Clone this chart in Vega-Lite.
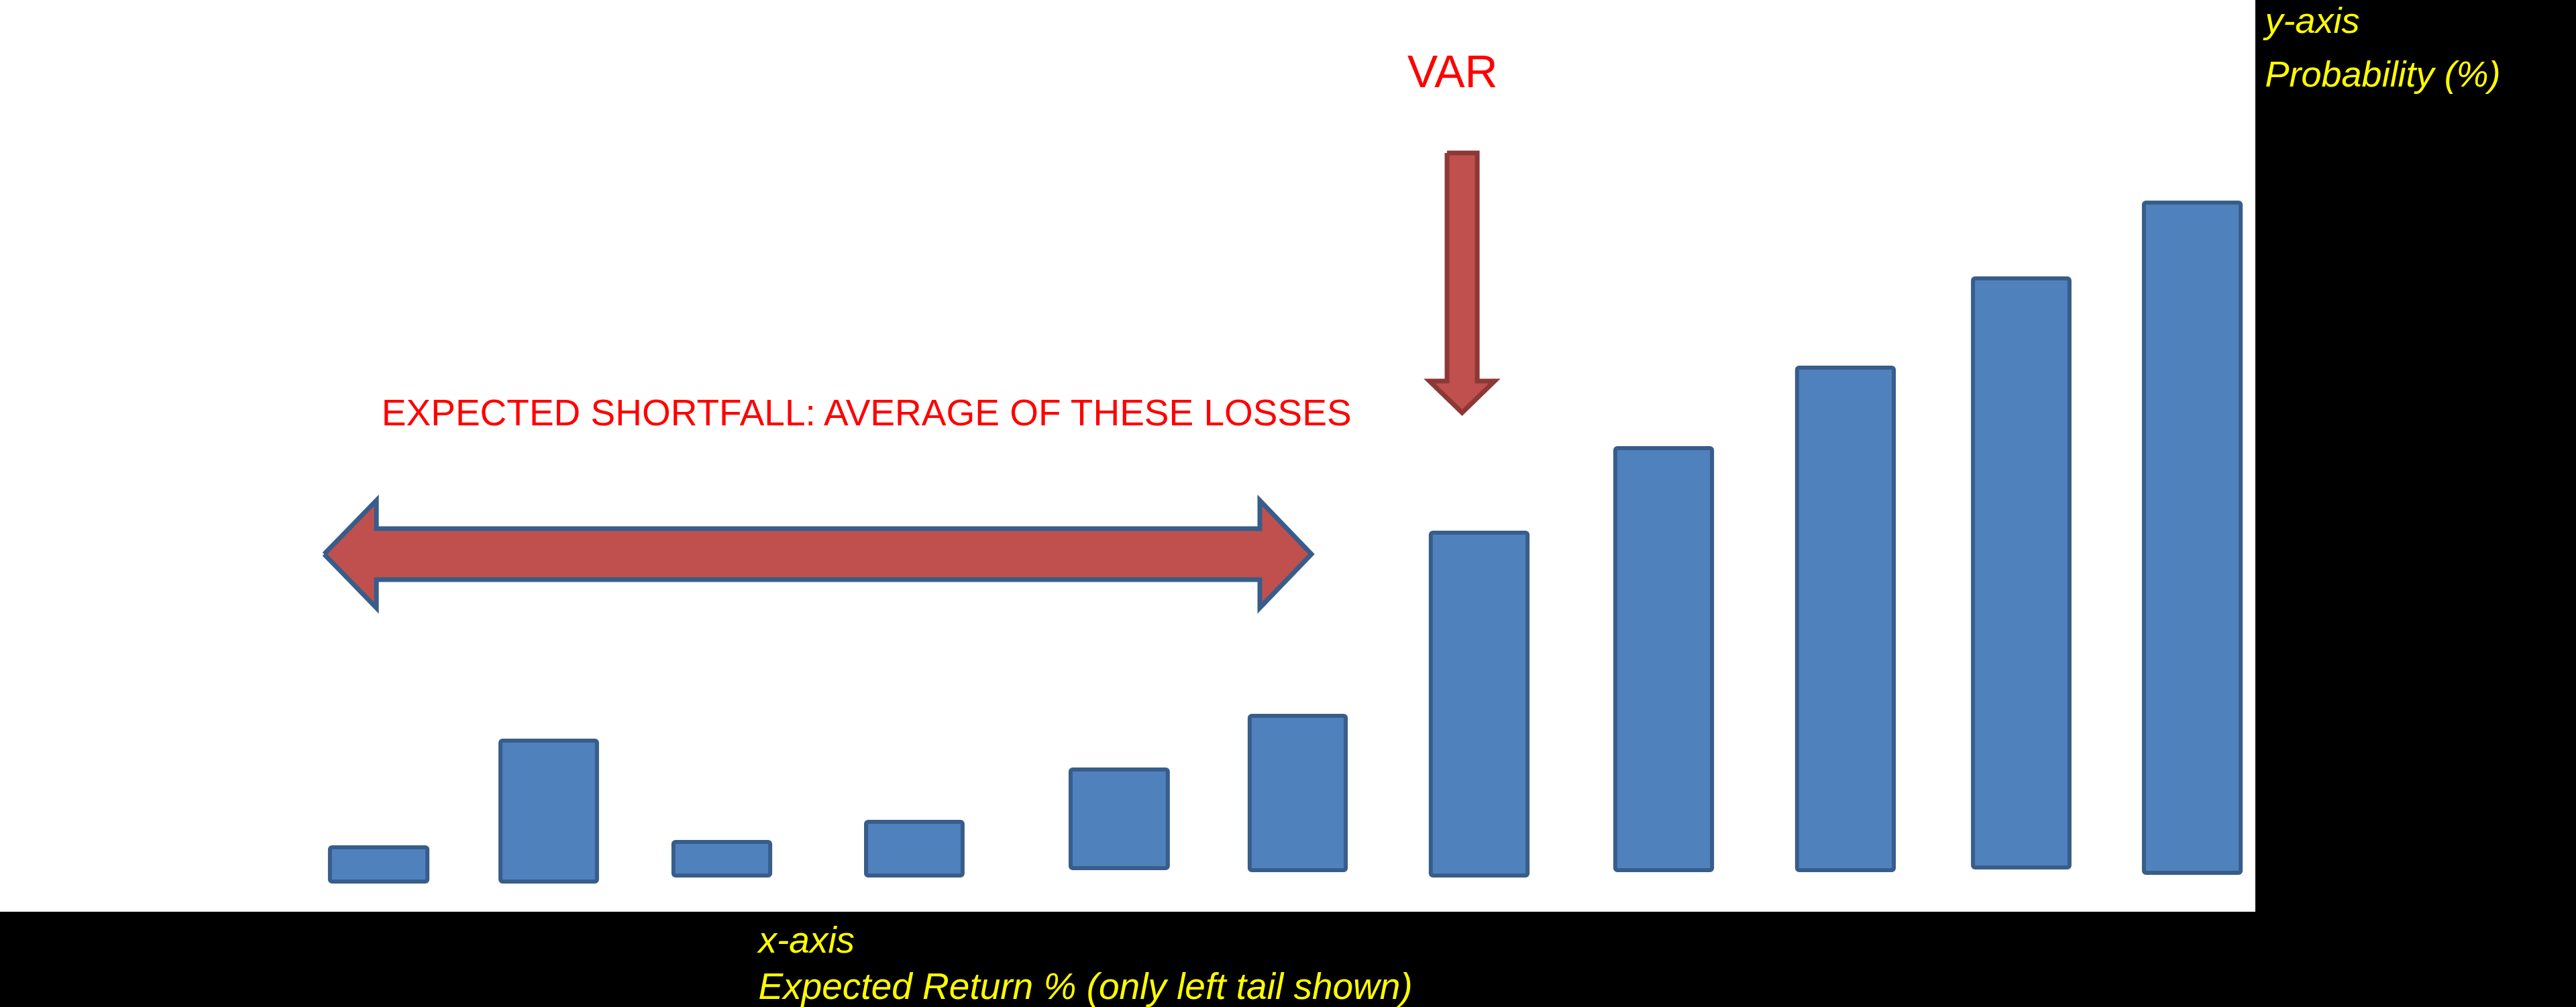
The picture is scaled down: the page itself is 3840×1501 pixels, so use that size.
{
  "$schema": "https://vega.github.io/schema/vega-lite/v6.json",
  "width": 3362,
  "height": 1359,
  "autosize": {"type": "none"},
  "padding": {"left": 0, "top": 0, "right": 478, "bottom": 142},
  "background": "#000000",
  "config": {
    "view": {"fill": "#ffffff", "stroke": null},
    "font": "Liberation Sans"
  },
  "datasets": {
    "bars": [
      {"bin": 1, "x0": 14.63, "x1": 18.95, "lo": -0.46, "prob": 3.44},
      {"bin": 2, "x0": 22.19, "x1": 26.47, "lo": -0.46, "prob": 15.60},
      {"bin": 3, "x0": 29.86, "x1": 34.15, "lo": 0.23, "prob": 4.05},
      {"bin": 4, "x0": 38.40, "x1": 42.68, "lo": 0.23, "prob": 6.35},
      {"bin": 5, "x0": 47.47, "x1": 51.78, "lo": 1.07, "prob": 12.31},
      {"bin": 6, "x0": 55.41, "x1": 59.67, "lo": 0.84, "prob": 18.43},
      {"bin": 7, "x0": 63.44, "x1": 67.73, "lo": 0.23, "prob": 39.30},
      {"bin": 8, "x0": 71.62, "x1": 75.91, "lo": 0.84, "prob": 48.93},
      {"bin": 9, "x0": 79.68, "x1": 83.97, "lo": 0.84, "prob": 58.10},
      {"bin": 10, "x0": 87.48, "x1": 91.76, "lo": 1.15, "prob": 68.27},
      {"bin": 11, "x0": 95.06, "x1": 99.35, "lo": 0.54, "prob": 76.91}
    ],
    "varArrow": [
      {"i": 1, "x": 64.16, "y": 82.57},
      {"i": 2, "x": 65.50, "y": 82.57},
      {"i": 3, "x": 65.50, "y": 56.57},
      {"i": 4, "x": 66.27, "y": 56.57},
      {"i": 5, "x": 64.83, "y": 52.98},
      {"i": 6, "x": 63.38, "y": 56.57},
      {"i": 7, "x": 64.16, "y": 56.57},
      {"i": 8, "x": 64.16, "y": 82.57}
    ],
    "esArrow": [
      {"i": 1, "x": 14.37, "y": 36.85},
      {"i": 2, "x": 16.69, "y": 42.97},
      {"i": 3, "x": 16.69, "y": 39.76},
      {"i": 4, "x": 55.86, "y": 39.76},
      {"i": 5, "x": 55.86, "y": 42.97},
      {"i": 6, "x": 58.15, "y": 36.85},
      {"i": 7, "x": 55.86, "y": 30.73},
      {"i": 8, "x": 55.86, "y": 33.94},
      {"i": 9, "x": 16.69, "y": 33.94},
      {"i": 10, "x": 16.69, "y": 30.73},
      {"i": 11, "x": 14.37, "y": 36.85}
    ],
    "labels": [
      {"label": "VAR", "x": 62.40, "y": 90.06, "size": 68},
      {"label": "EXPECTED SHORTFALL: AVERAGE OF THESE LOSSES", "x": 16.92, "y": 51.53, "size": 55}
    ]
  },
  "layer": [
    {
      "data": {"name": "bars"},
      "mark": {"type": "rect", "fill": "#4F81BD", "stroke": "#385D8A", "strokeWidth": 6, "cornerRadius": 3},
      "encoding": {
        "x": {
          "field": "x0", "type": "quantitative",
          "scale": {"domain": [0, 100], "nice": false, "zero": false},
          "axis": {
            "orient": "bottom", "labels": false, "ticks": false, "domain": false, "grid": false,
            "title": ["x-axis", "Expected Return % (only left tail shown)"],
            "titleX": 1130, "titleY": 60, "titleAlign": "left", "titleBaseline": "alphabetic",
            "titleAngle": 0, "titleColor": "#FFFF00", "titleFont": "Liberation Sans",
            "titleFontStyle": "italic", "titleFontWeight": "normal", "titleFontSize": 55,
            "titleLineHeight": 69
          }
        },
        "x2": {"field": "x1"},
        "y": {
          "field": "lo", "type": "quantitative",
          "scale": {"domain": [-3.9, 100], "nice": false, "zero": false},
          "axis": {
            "orient": "right", "labels": false, "ticks": false, "domain": false, "grid": false,
            "title": ["y-axis", "Probability (%)"],
            "titleX": 14, "titleY": 48, "titleAlign": "left", "titleBaseline": "alphabetic",
            "titleAngle": 0, "titleColor": "#FFFF00", "titleFont": "Liberation Sans",
            "titleFontStyle": "italic", "titleFontWeight": "normal", "titleFontSize": 54,
            "titleLineHeight": 80
          }
        },
        "y2": {"field": "prob"}
      }
    },
    {
      "data": {"name": "varArrow"},
      "mark": {"type": "line", "fill": "#C0504D", "stroke": "#8C3836", "strokeWidth": 7, "strokeJoin": "miter"},
      "encoding": {
        "x": {"field": "x", "type": "quantitative"},
        "y": {"field": "y", "type": "quantitative"},
        "order": {"field": "i", "type": "quantitative"}
      }
    },
    {
      "data": {"name": "esArrow"},
      "mark": {"type": "line", "fill": "#C0504D", "stroke": "#385D8A", "strokeWidth": 7, "strokeJoin": "miter"},
      "encoding": {
        "x": {"field": "x", "type": "quantitative"},
        "y": {"field": "y", "type": "quantitative"},
        "order": {"field": "i", "type": "quantitative"}
      }
    },
    {
      "data": {"name": "labels"},
      "mark": {"type": "text", "color": "#FF0000", "align": "left", "baseline": "alphabetic", "font": "Liberation Sans"},
      "encoding": {
        "x": {"field": "x", "type": "quantitative"},
        "y": {"field": "y", "type": "quantitative"},
        "text": {"field": "label"},
        "size": {"field": "size", "type": "quantitative", "scale": null}
      }
    }
  ]
}
